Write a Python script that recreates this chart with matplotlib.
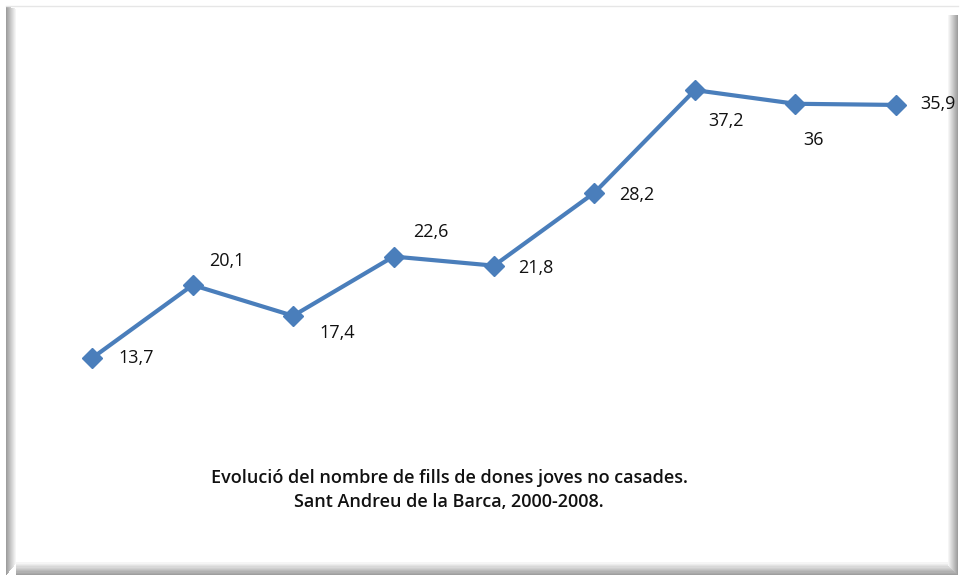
import matplotlib
matplotlib.use('Agg')
import matplotlib.pyplot as plt
from matplotlib.patches import Rectangle

years = [2000, 2001, 2002, 2003, 2004, 2005, 2006, 2007, 2008]
values = [13.7, 20.1, 17.4, 22.6, 21.8, 28.2, 37.2, 36, 35.9]
labels = ['13,7', '20,1', '17,4', '22,6', '21,8', '28,2', '37,2', '36', '35,9']
# label offsets in pixels (dx, dy), dy positive = down
offsets = [(44, 0), (34, -24), (44, 17), (37, -25), (42, 2), (42, 2), (31, 31), (18, 36), (42, -1)]

title = 'Evolució del nombre de fills de dones joves no casades.\nSant Andreu de la Barca, 2000-2008.'

W, H = 960, 578
fig = plt.figure(figsize=(W / 100, H / 100), dpi=100)
fig.patch.set_facecolor('white')

# ---- frame with soft shadow, drawn in pixel coords
bg = fig.add_axes([0, 0, 1, 1])
bg.set_xlim(0, W)
bg.set_ylim(H, 0)
bg.axis('off')
bg.plot([6, 958], [5.5, 5.5], color='#e6e6e6', lw=1)
n = 10
for i in range(n):
    g = 0.62 + 0.38 * i / n
    c = (g, g, g)
    bg.add_patch(Rectangle((6 + i, 6 + i * 0.3), 1, 569 - i * 1.5, color=c, lw=0))      # left
    bg.add_patch(Rectangle((957 - i, 15), 1, 560 - i, color=c, lw=0))                      # right
    bg.add_patch(Rectangle((16, 574 - i * 1.3), 941 - i, 1.3, color=c, lw=0))              # bottom

# ---- data axes (x: -0.5..8.5 -> px 42..946)
ax = fig.add_axes([42 / W, (H - 440) / H, 904 / W, 400 / H])
ax.set_xlim(-0.5, 8.5)
y_lo = 13.7 - (440 - 358) / 11.4
y_hi = 13.7 + (358 - 40) / 11.4
ax.set_ylim(y_lo, y_hi)
ax.axis('off')

xs = list(range(len(years)))
ax.plot(xs, values, color='#4a7ebb', lw=3, marker='D', markersize=10.5,
        markerfacecolor='#4a7ebb', markeredgecolor='#4a7ebb', clip_on=False)

for x, v, lab, (dx, dy) in zip(xs, values, labels, offsets):
    ax.annotate(lab, (x, v), xytext=(dx * 0.72, -dy * 0.72), textcoords='offset points',
                ha='center', va='center', fontsize=13, family='Open Sans', color='#111111')

fig.text(449 / W, 1 - 490 / H, title, ha='center', va='center', fontsize=13,
         family='Open Sans', fontweight='semibold', linespacing=1.4, color='#111111')

fig.savefig('out.png', dpi=100)
